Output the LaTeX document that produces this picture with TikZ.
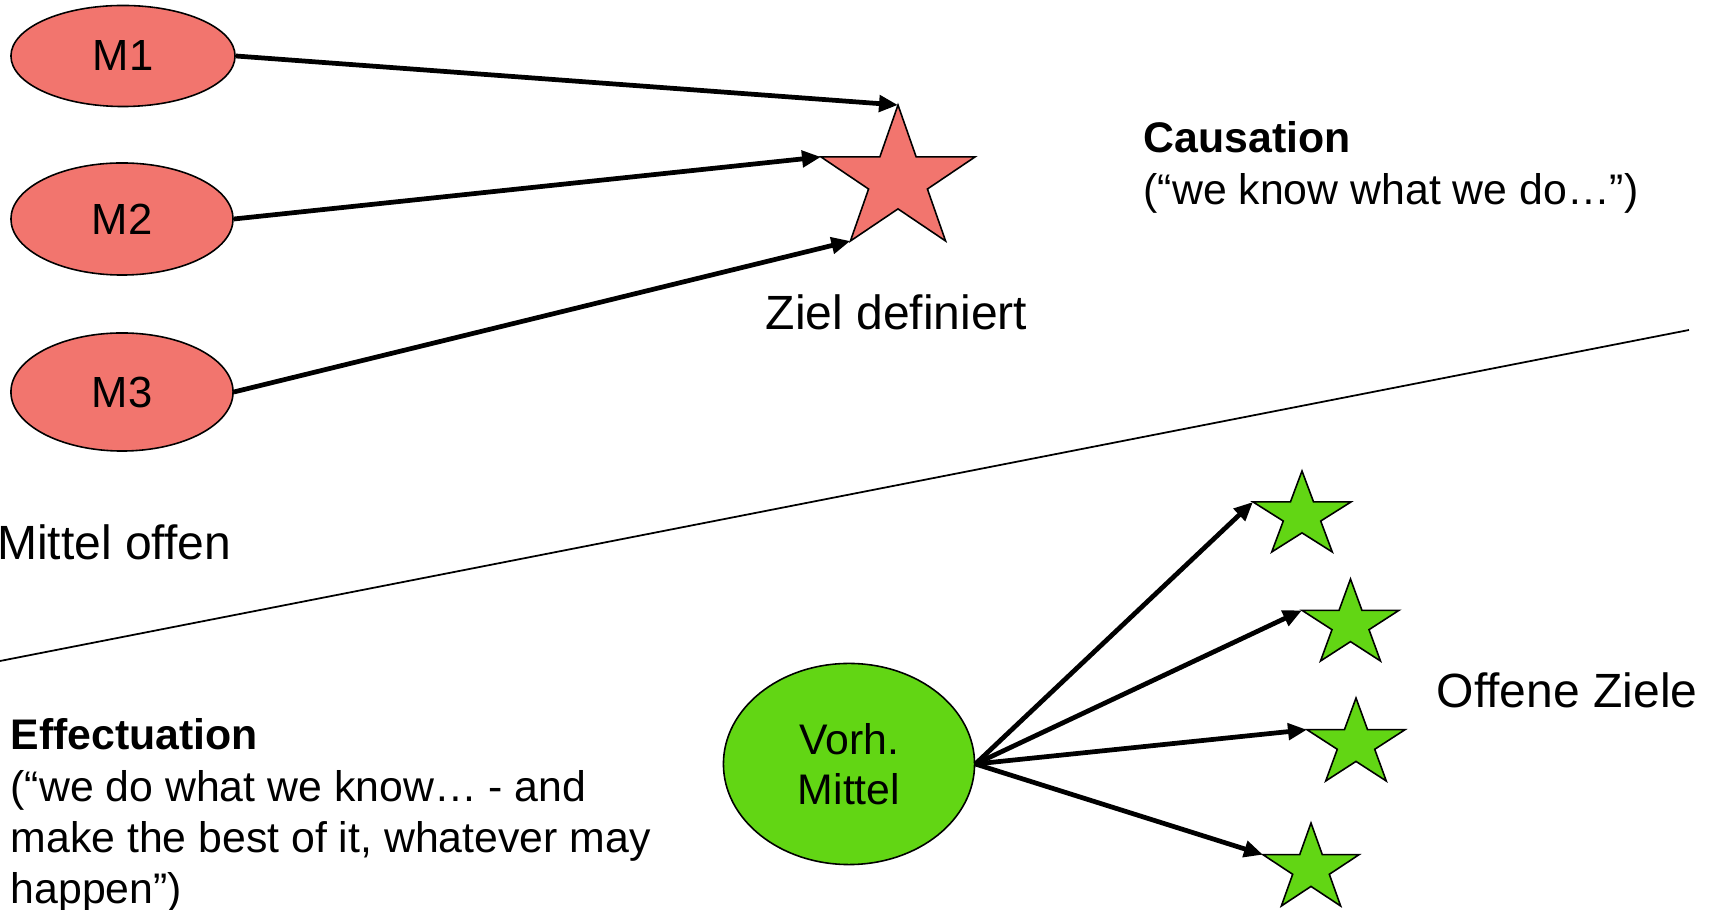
\documentclass[tikz,border=0pt]{standalone}
\usepackage{fontspec}
\setmainfont{Liberation Sans}
\usetikzlibrary{shapes.geometric,arrows.meta}
\definecolor{redfill}{RGB}{242,117,110}
\definecolor{greenfill}{RGB}{98,214,20}
\begin{document}
\begin{tikzpicture}[x=0.01cm,y=-0.01cm,
  mnode/.style={ellipse, draw=black, line width=0.45pt, fill=redfill, inner sep=0pt, font=\fontsize{12.4}{14.4}\selectfont},
  vnode/.style={ellipse, draw=black, line width=0.45pt, fill=greenfill, inner sep=0pt, align=center, font=\fontsize{12.17}{14.2}\selectfont},
  arr/.style={line width=1.35pt, -{Triangle[length=5.4pt,width=4.6pt]}},
  divline/.style={line width=0.5pt},
  lbl/.style={inner sep=0pt, font=\fontsize{13.66}{16}\selectfont},
  txt/.style={inner sep=0pt, align=left, font=\fontsize{12.17}{14.6}\selectfont},
  starpic/.pic={
    \path[pic actions] (0.5,0) -- (0.618,0.382) -- (1,0.382) -- (0.691,0.618) -- (0.809,1) -- (0.5,0.764) -- (0.191,1) -- (0.309,0.618) -- (0,0.382) -- (0.382,0.382) -- cycle;
    \coordinate (-top) at (0.5,0);
    \coordinate (-left) at (0,0.382);
    \coordinate (-bl) at (0.191,1);
  }
]
\useasboundingbox (0,0) rectangle (1711,910);

% dividing line
\coordinate (d1) at (0,661);
\coordinate (d2) at (1689,330);
\draw[divline] (d1) -- (d2);

% causation part
\node[mnode, minimum width=2.24cm, minimum height=1.01cm] (M1) at (123,56) {M1};
\node[mnode, minimum width=2.22cm, minimum height=1.12cm] (M2) at (122,219) {M2};
\node[mnode, minimum width=2.22cm, minimum height=1.18cm] (M3) at (122,392) {M3};

\pic[draw=black, fill=redfill, line width=0.45pt, xscale=154, yscale=136] (rs) at (821,105) {starpic};

\draw[arr] (M1.east) -- (rs-top);
\draw[arr] (M2.east) -- (rs-left);
\draw[arr] (M3.east) -- (rs-bl);

\node[lbl, anchor=base west] (zd) at (765,330) {Ziel definiert};
\node[lbl, anchor=base west] (mo) at (-3.5,560) {Mittel offen};
\node[txt, anchor=north west] (cs) at (1143,121) {\textbf{Causation}\\(“we know what we do…”)};

% effectuation part
\node[vnode, minimum width=2.51cm, minimum height=2.01cm] (V) at (849,764) {Vorh.\\Mittel};

\pic[draw=black, fill=greenfill, line width=0.45pt, xscale=98, yscale=81] (g1) at (1253,471) {starpic};
\pic[draw=black, fill=greenfill, line width=0.45pt, xscale=97, yscale=82] (g2) at (1302,579) {starpic};
\pic[draw=black, fill=greenfill, line width=0.45pt, xscale=98, yscale=83] (g3) at (1307,698) {starpic};
\pic[draw=black, fill=greenfill, line width=0.45pt, xscale=96, yscale=83] (g4) at (1263,823) {starpic};

\draw[arr] (V.east) -- (g1-left);
\draw[arr] (V.east) -- (g2-left);
\draw[arr] (V.east) -- (g3-left);
\draw[arr] (V.east) -- (g4-left);

\node[lbl, anchor=base west] (oz) at (1436,708) {Offene Ziele};
\node[txt, anchor=north west] (ef) at (10,718) {\textbf{Effectuation}\\(“we do what we know… - and\\make the best of it, whatever may\\happen”)};
\end{tikzpicture}
\end{document}
